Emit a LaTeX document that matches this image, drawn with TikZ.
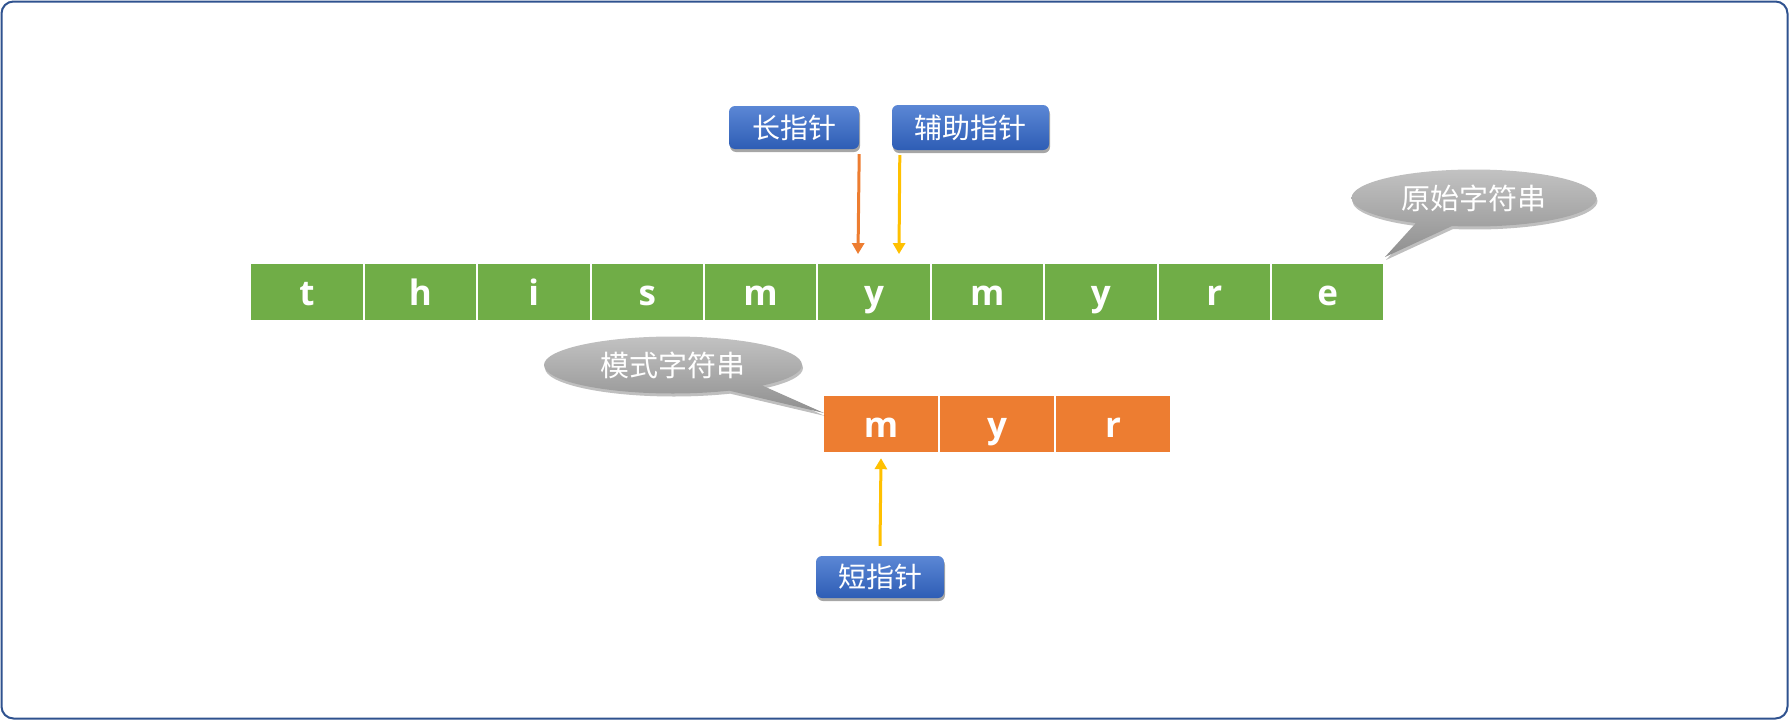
\documentclass[tikz,border=0pt]{standalone}
\usepackage{fontspec}
\setmainfont{Open Sans}
\newfontfamily\cjk{Noto Sans CJK SC}
\usetikzlibrary{arrows.meta,shapes.callouts,shadows}
\definecolor{cgreen}{HTML}{70AD47}
\definecolor{corange}{HTML}{ED7D31}
\definecolor{cyellow}{HTML}{FFC000}
\definecolor{cframe}{HTML}{2F528F}
\definecolor{bluetop}{HTML}{5B87D5}
\definecolor{bluebot}{HTML}{2E5DB5}
\definecolor{graytop}{HTML}{C2C2C2}
\definecolor{graybot}{HTML}{8F8F8F}
\begin{document}
\begin{tikzpicture}[x=1pt,y=-1pt,
  frame/.style={draw=cframe, line width=2pt, rounded corners=12pt},
  cellg/.style={fill=cgreen, minimum width=111.4pt, minimum height=56pt, inner sep=0pt,
    text=white, text height=26.8pt, text depth=0pt, font=\fontsize{35}{35}\selectfont\bfseries},
  cello/.style={cellg, fill=corange, minimum width=114pt},
  ptr/.style={rounded corners=6pt, top color=bluetop, bottom color=bluebot, draw=none,
    text=white, inner sep=0pt, font=\cjk\fontsize{28}{28}\selectfont,
    drop shadow={shadow xshift=1pt, shadow yshift=-3pt, opacity=0.35, fill=black}},
  bubble/.style={ellipse callout, callout pointer arc=18, top color=graytop, bottom color=graybot,
    draw=none, inner sep=0pt, minimum width=245pt, minimum height=57pt,
    text=white, font=\cjk\fontsize{29}{29}\selectfont,
    drop shadow={shadow xshift=1pt, shadow yshift=-3pt, opacity=0.25, fill=black}},
  oarrow/.style={draw=corange, line width=3pt, -{Triangle[width=12pt,length=11pt]}},
  yarrow/.style={oarrow, draw=cyellow},
]
\useasboundingbox (0,0) rectangle (1789,720);
\draw[frame] (1.5,1.5) rectangle (1787.5,718.5);

\foreach \c [count=\i from 0] in {t,h,i,s,m,y,m,y,r,e}
  \node[cellg] (g\i) at ({251.3+113.4*\i+55.7},292.3) {\c};

\foreach \c [count=\i from 0] in {m,y,r}
  \node[cello] (o\i) at ({824+116*\i+57},424) {\c};

\node[ptr, minimum width=130pt, minimum height=43pt] (long) at (794,127.5) {长指针};
\node[ptr, minimum width=157pt, minimum height=45pt] (aux) at (970.5,127.5) {辅助指针};
\node[ptr, minimum width=128pt, minimum height=42pt] (short) at (880,577) {短指针};

\node[bubble, callout absolute pointer={(1385,257)}] (orig) at (1474,198) {原始字符串};
\node[bubble, minimum width=258pt, callout absolute pointer={(824,413)}] (pat) at (673,365) {模式字符串};

\draw[oarrow] ([yshift=-5pt]long.south east) -- ([xshift=-16pt,yshift=10pt]g5.north);
\draw[yarrow] ([xshift=8pt,yshift=-5pt]aux.south west) -- ([xshift=25pt,yshift=10pt]g5.north);
\draw[yarrow] ([yshift=10pt]short.north) -- ([yshift=-6pt]o0.south);
\end{tikzpicture}
\end{document}
